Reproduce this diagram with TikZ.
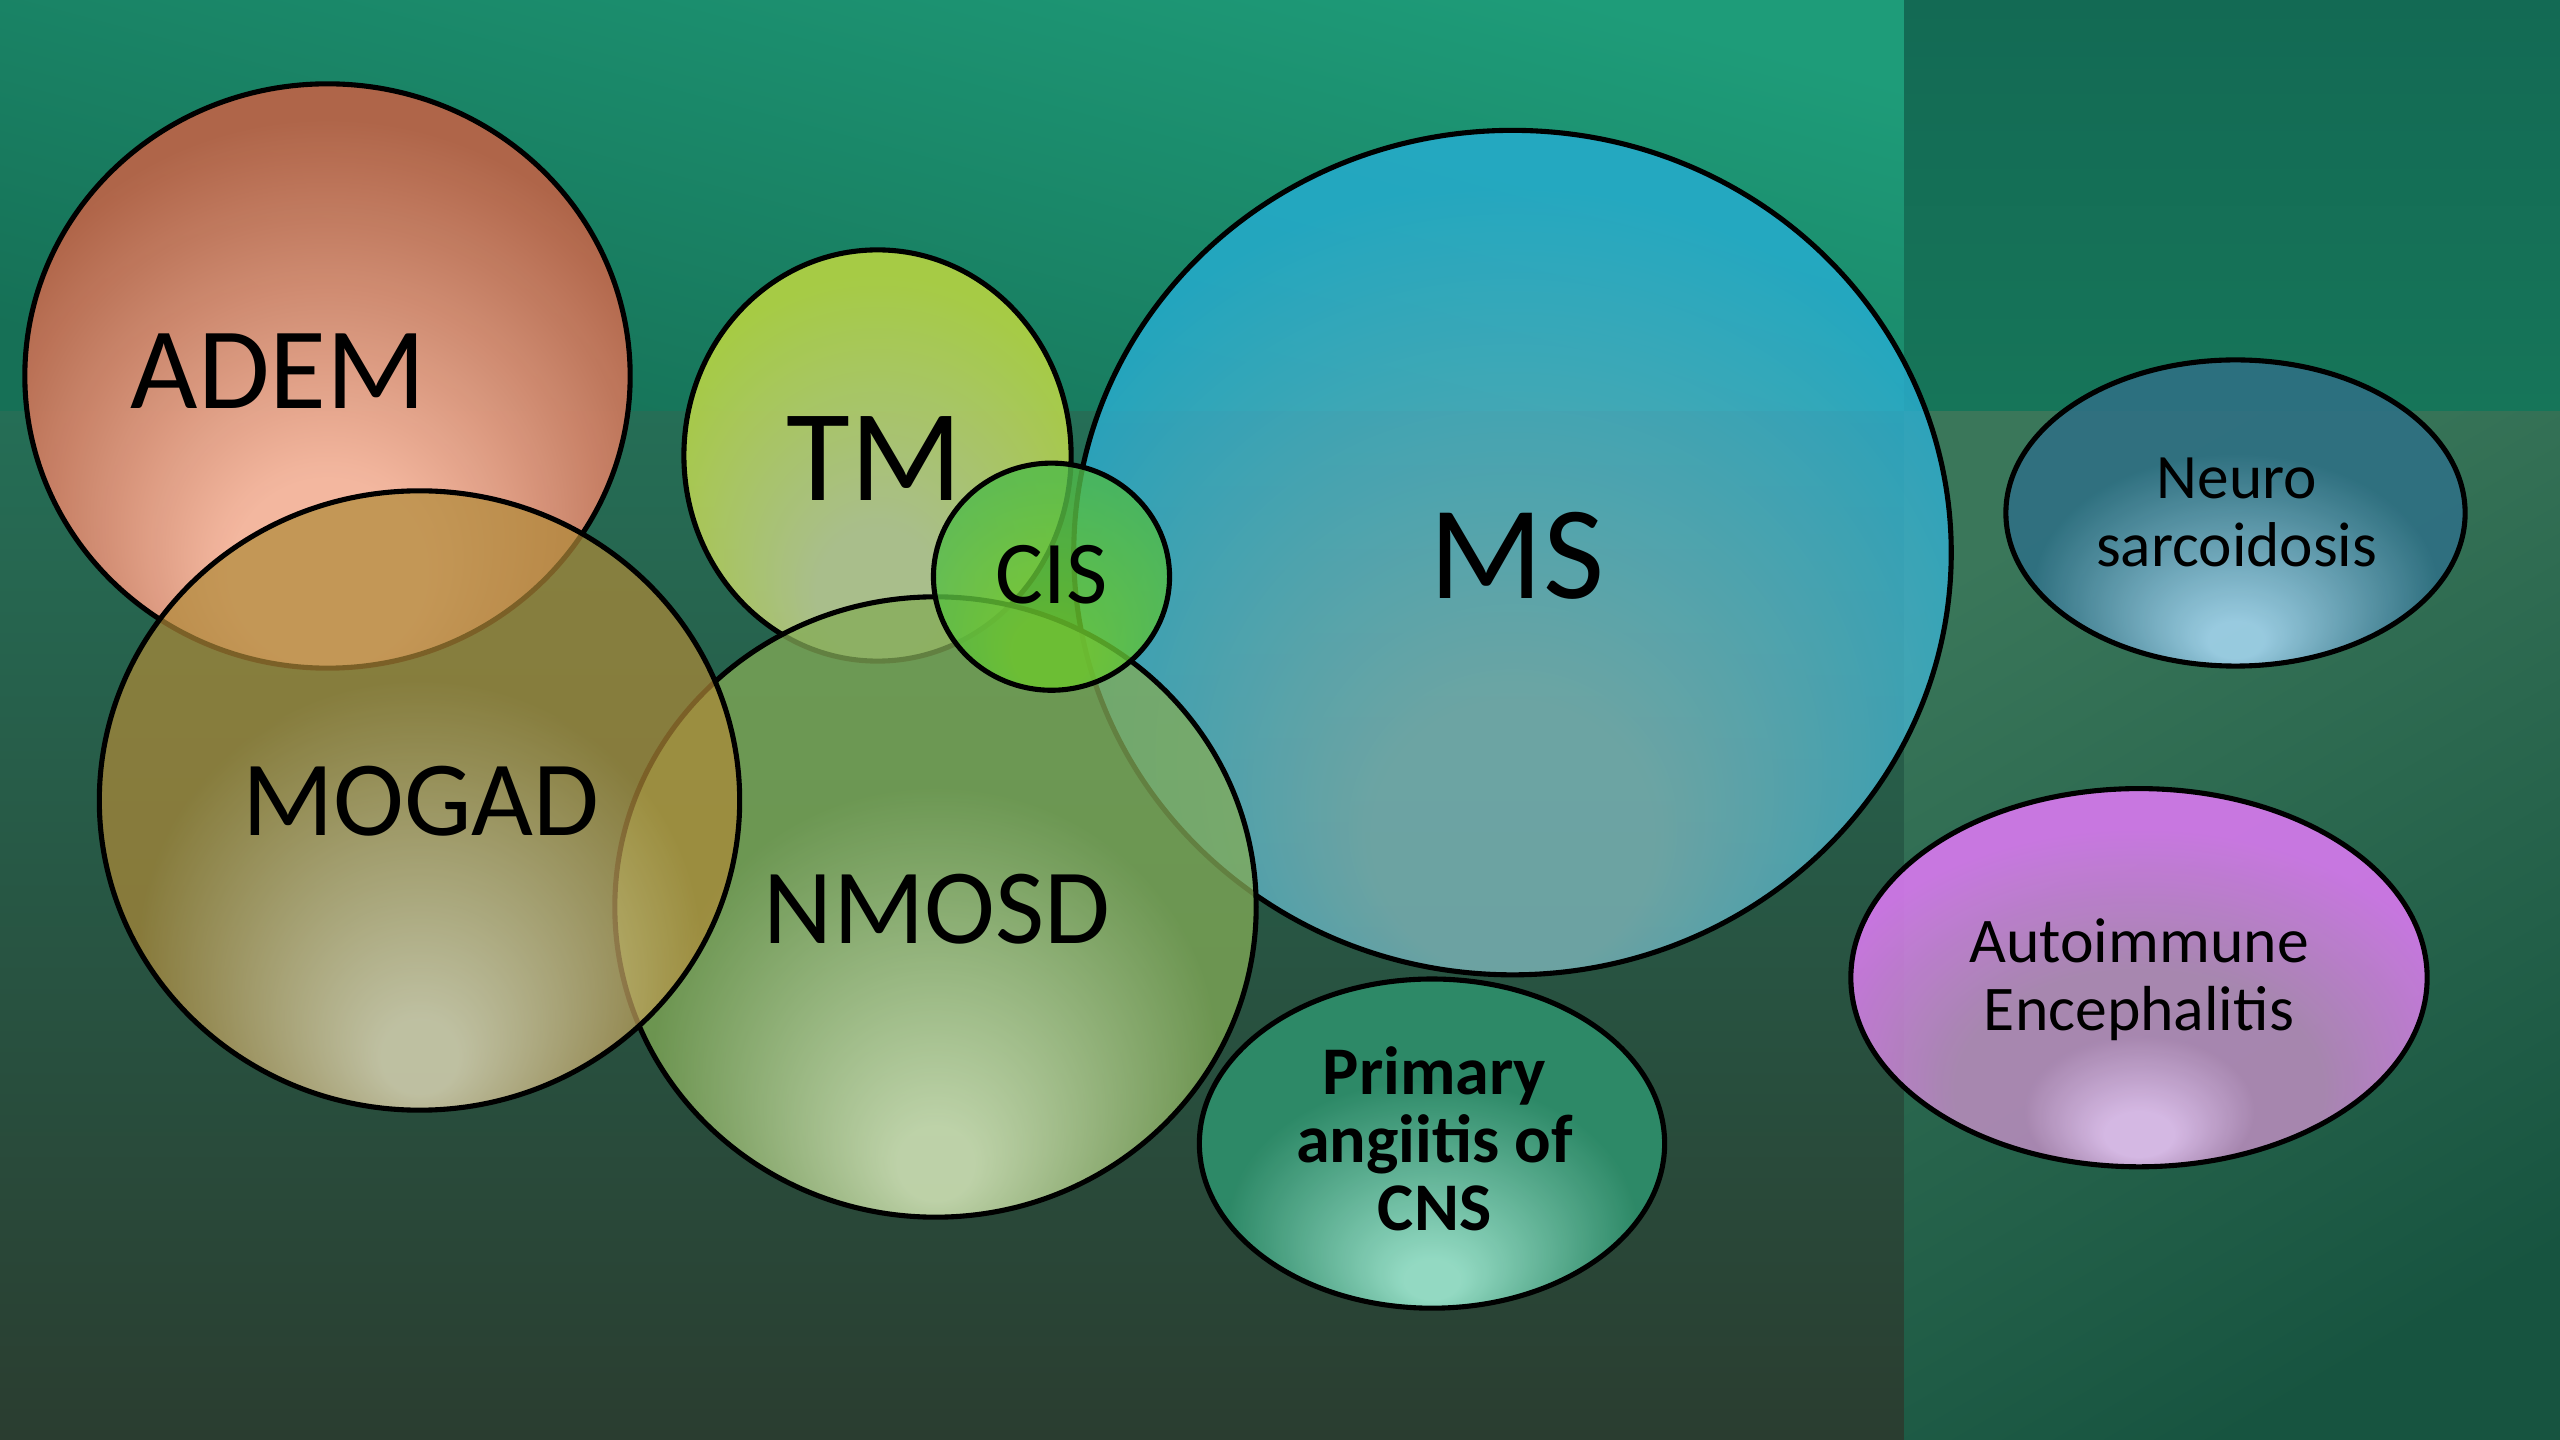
\documentclass[tikz,border=0pt]{standalone}
\usepackage{fontspec}
\setmainfont{Carlito}
\usetikzlibrary{shapes.geometric}

% background colours
\definecolor{bgAt}{HTML}{1E9C79}\definecolor{bgAb}{HTML}{167056}
\definecolor{bgBt}{HTML}{256E56}\definecolor{bgBm}{HTML}{2D5844}\definecolor{bgBb}{HTML}{2A3D30}
\definecolor{bgCt}{HTML}{136A54}\definecolor{bgCb}{HTML}{167559}
\definecolor{bgDt}{HTML}{3A775A}\definecolor{bgDb}{HTML}{175440}

% shape colours
\definecolor{ademIn}{HTML}{FFBCA4}\definecolor{ademOut}{HTML}{B86448}
\definecolor{tmIn}{HTML}{B8C892}\definecolor{tmOut}{HTML}{B6D442}
\definecolor{msIn}{HTML}{7EB6BA}\definecolor{msOut}{HTML}{26AED4}
\definecolor{nmIn}{HTML}{EFFFCD}\definecolor{nmOut}{HTML}{84AC57}
\definecolor{moIn}{HTML}{FFF0CC}\definecolor{moOut}{HTML}{B08A38}
\definecolor{cisIn}{HTML}{6DC82D}\definecolor{cisOut}{HTML}{50BB4A}
\definecolor{paIn}{HTML}{9FEAD2}\definecolor{paOut}{HTML}{2E906C}
\definecolor{neIn}{HTML}{A3D4EE}\definecolor{neOut}{HTML}{2F7084}
\definecolor{aeIn}{HTML}{E8C2F4}\definecolor{aeMid}{HTML}{B58BBA}\definecolor{aeOut}{HTML}{D979F0}

% broad glow (light from the lower half)
\newcommand\mkglow[3]{\pgfdeclareradialshading{#1}{\pgfpoint{0bp}{-20bp}}{color(0bp)=(#2); color(8bp)=(#2); color(30bp)=(#3); color(50bp)=(#3)}}
% tight glow (light at the bottom edge)
\newcommand\mkglowlow[3]{\pgfdeclareradialshading{#1}{\pgfpoint{0bp}{-22bp}}{color(0bp)=(#2); color(3bp)=(#2); color(22bp)=(#3); color(50bp)=(#3)}}
\mkglow{shADEM}{ademIn}{ademOut}
\mkglow{shTM}{tmIn}{tmOut}
\mkglow{shMS}{msIn}{msOut}
\mkglowlow{shNM}{nmIn}{nmOut}
\mkglowlow{shMO}{moIn}{moOut}
\mkglow{shCIS}{cisIn}{cisOut}
\mkglowlow{shPA}{paIn}{paOut}
\mkglowlow{shNE}{neIn}{neOut}
\pgfdeclareradialshading{shAE}{\pgfpoint{0bp}{-22bp}}{color(0bp)=(aeIn); color(3bp)=(aeIn); color(10bp)=(aeMid); color(16bp)=(aeMid); color(29bp)=(aeOut); color(50bp)=(aeOut)}

\begin{document}
\begin{tikzpicture}[x=0.01cm, y=-0.01cm,
  blob/.style={ellipse, draw=black, line width=1.45pt, inner sep=0pt, outer sep=0pt, shade},
  lbl/.style={anchor=base, text=black, inner sep=0pt, outer sep=0pt},
]
\useasboundingbox (0,0) rectangle (2560,1440);
% background panels
\shade[top color=bgAt, bottom color=bgAb, shading angle=-15] (0,0) rectangle (1904,412);
\shade[top color=bgBt, middle color=bgBm, bottom color=bgBb] (0,412) rectangle (1904,1440);
\shade[top color=bgCt, bottom color=bgCb] (1904,0) rectangle (2560,412);
\shade[top color=bgDt, bottom color=bgDb, shading angle=30] (1904,412) rectangle (2560,1440);

% shapes, bottom to top
\node[blob, shading=shADEM, fill opacity=0.95, minimum width=6.05cm, minimum height=5.84cm] (adem) at (327.5,376) {};
\node[blob, shading=shTM, fill opacity=0.9, minimum width=3.87cm, minimum height=4.11cm] (tm) at (877.5,455.5) {};
\node[blob, shading=shMS, fill opacity=0.8, minimum width=8.77cm, minimum height=8.44cm] (ms) at (1512.5,552.6) {};
\node[blob, shading=shNM, fill opacity=0.75, minimum width=6.41cm, minimum height=6.2cm] (nmosd) at (935.5,907) {};
\node[blob, shading=shMO, fill opacity=0.7, minimum width=6.4cm, minimum height=6.19cm] (mogad) at (419.5,800.5) {};
\node[blob, shading=shCIS, fill opacity=0.8, minimum width=2.36cm, minimum height=2.27cm] (cis) at (1051.5,576.7) {};
\node[blob, shading=shPA, fill opacity=0.9, minimum width=4.65cm, minimum height=3.29cm] (pacns) at (1432,1143.6) {};
\node[blob, shading=shNE, fill opacity=0.9, minimum width=4.59cm, minimum height=3.06cm] (neuro) at (2235.5,513) {};
\node[blob, shading=shAE, fill opacity=0.9, minimum width=5.76cm, minimum height=3.78cm] (ae) at (2139,977.7) {};

% labels
\node[lbl, font=\fontsize{33.1}{39}\selectfont] (ademt) at (278.5,408.6) {ADEM};
\node[lbl, font=\fontsize{37.2}{44}\selectfont] (tmt) at (874.7,500.5) {TM};
\node[lbl, font=\fontsize{37.8}{45}\selectfont] (mst) at (1516.7,599) {MS};
\node[lbl, font=\fontsize{30.4}{36}\selectfont] (nmosdt) at (937,943) {NMOSD};
\node[lbl, font=\fontsize{30.4}{36}\selectfont] (mogadt) at (420.8,835.9) {MOGAD};
\node[lbl, font=\fontsize{25.5}{30}\selectfont] (cist) at (1051.7,603.3) {CIS};
\node[lbl, align=center, font=\bfseries\fontsize{19.4}{19.4}\selectfont] (pacnst) at (1434.6,1230.6) {Primary\\angiitis of\\CNS};
\node[lbl, align=center, font=\fontsize{18}{19.6}\selectfont] (neurot) at (2236.7,567) {Neuro\\sarcoidosis};
\node[lbl, align=center, font=\fontsize{18.1}{19.4}\selectfont] (aet) at (2139,1030.9) {Autoimmune\\Encephalitis};
\end{tikzpicture}
\end{document}
